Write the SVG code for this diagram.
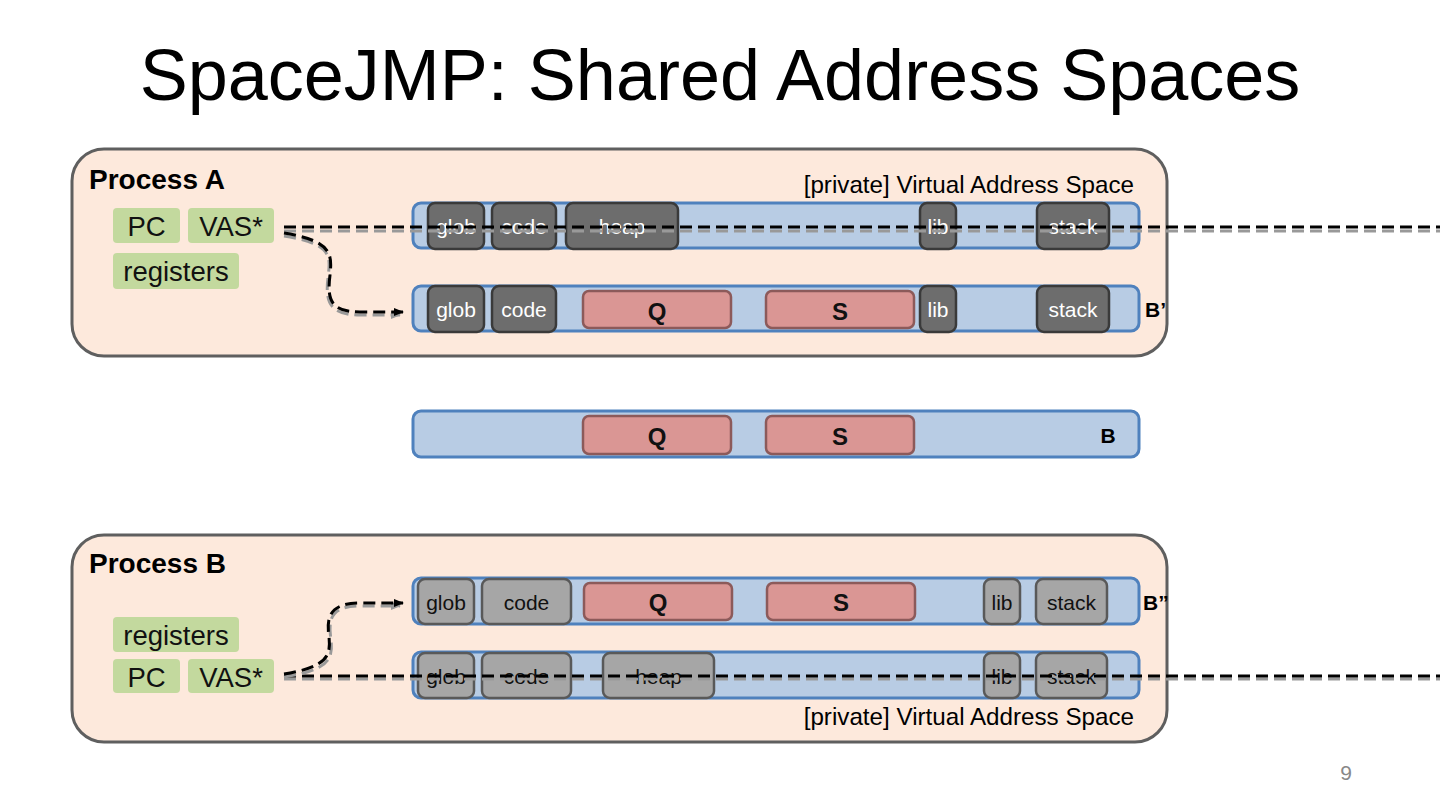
<svg xmlns="http://www.w3.org/2000/svg" width="1440" height="810" viewBox="0 0 1440 810">
<defs>
<style>
.t{font-family:"Liberation Sans",Arial,sans-serif;}
.proc{fill:#fde9dc;stroke:#5f5f5f;stroke-width:3;}
.reg{fill:#c3d99e;}
.regt{font-size:27.5px;fill:#111;text-anchor:middle;}
.bar{fill:#b8cce4;stroke:#4f81bd;stroke-width:3;}
.dk{fill:#6d6d6d;stroke:#3a3a3a;stroke-width:2.5;}
.dkt{font-size:21px;fill:#fff;text-anchor:middle;}
.lt{fill:#a6a6a6;stroke:#595959;stroke-width:2.5;}
.ltt{font-size:21px;fill:#111;text-anchor:middle;}
.sh{fill:#da9694;stroke:#8c5a5a;stroke-width:2.5;}
.sht{font-size:24px;font-weight:bold;fill:#111;text-anchor:middle;}
.lbl{font-size:21px;font-weight:bold;fill:#000;}
.ptitle{font-size:28px;font-weight:bold;fill:#000;}
.priv{font-size:24.2px;fill:#000;text-anchor:end;}
.dash{fill:none;stroke:#000;stroke-width:3;stroke-dasharray:12 6;}
.dashsh{fill:none;stroke:#999;stroke-width:3;stroke-dasharray:12 6;}
</style>
<marker id="ah" markerWidth="10" markerHeight="8" refX="9" refY="4" orient="auto" markerUnits="userSpaceOnUse">
<path d="M0,0 L10,4 L0,8 Z" fill="#000"/>
</marker>
<marker id="ahs" markerWidth="10" markerHeight="8" refX="9" refY="4" orient="auto" markerUnits="userSpaceOnUse">
<path d="M0,0 L10,4 L0,8 Z" fill="#999"/>
</marker>
</defs>
<rect width="1440" height="810" fill="#fff"/>
<text class="t" x="720" y="100" font-size="72" text-anchor="middle" fill="#000">SpaceJMP: Shared Address Spaces</text>

<g id="processA">
<rect class="proc" x="72" y="149" width="1095" height="207" rx="32"/>
<text class="t ptitle" x="89" y="189">Process A</text>
<text class="t priv" x="1134" y="193">[private] Virtual Address Space</text>
<rect class="reg" x="113" y="208" width="67" height="35" rx="4"/>
<text class="t regt" x="146.5" y="236">PC</text>
<rect class="reg" x="188" y="208" width="86" height="35" rx="4"/>
<text class="t regt" x="231" y="236">VAS*</text>
<rect class="reg" x="113" y="253" width="126" height="36" rx="4"/>
<text class="t regt" x="176" y="281">registers</text>
</g>

<g id="vasA">
<rect class="bar" x="413" y="203" width="726" height="45" rx="8"/>
<rect class="dk" x="428" y="203" width="56" height="46" rx="7"/>
<text class="t dkt" x="456" y="234">glob</text>
<rect class="dk" x="492" y="203" width="64" height="46" rx="7"/>
<text class="t dkt" x="524" y="234">code</text>
<rect class="dk" x="566" y="203" width="112" height="46" rx="7"/>
<text class="t dkt" x="622" y="234">heap</text>
<rect class="dk" x="920" y="203" width="36" height="46" rx="7"/>
<text class="t dkt" x="938" y="234">lib</text>
<rect class="dk" x="1037" y="203" width="72" height="46" rx="7"/>
<text class="t dkt" x="1073" y="234">stack</text>
</g>

<g id="vasBprime">
<rect class="bar" x="413" y="286" width="726" height="45" rx="8"/>
<rect class="dk" x="428" y="286" width="56" height="46" rx="7"/>
<text class="t dkt" x="456" y="317">glob</text>
<rect class="dk" x="492" y="286" width="64" height="46" rx="7"/>
<text class="t dkt" x="524" y="317">code</text>
<rect class="sh" x="583" y="291" width="148" height="37" rx="6"/>
<text class="t sht" x="657" y="320">Q</text>
<rect class="sh" x="766" y="291" width="148" height="37" rx="6"/>
<text class="t sht" x="840" y="320">S</text>
<rect class="dk" x="920" y="286" width="36" height="46" rx="7"/>
<text class="t dkt" x="938" y="317">lib</text>
<rect class="dk" x="1037" y="286" width="72" height="46" rx="7"/>
<text class="t dkt" x="1073" y="317">stack</text>
<text class="t lbl" x="1145" y="317">B’</text>
</g>

<g id="vasB">
<rect class="bar" x="413" y="411" width="726" height="46" rx="8"/>
<rect class="sh" x="583" y="416" width="148" height="38" rx="6"/>
<text class="t sht" x="657" y="445">Q</text>
<rect class="sh" x="766" y="416" width="148" height="38" rx="6"/>
<text class="t sht" x="840" y="445">S</text>
<text class="t lbl" x="1108" y="443" text-anchor="middle">B</text>
</g>

<g id="processB">
<rect class="proc" x="72" y="535" width="1095" height="207" rx="32"/>
<text class="t ptitle" x="89" y="573">Process B</text>
<text class="t priv" x="1134" y="725">[private] Virtual Address Space</text>
<rect class="reg" x="113" y="617" width="126" height="35" rx="4"/>
<text class="t regt" x="176" y="645">registers</text>
<rect class="reg" x="113" y="659" width="67" height="34" rx="4"/>
<text class="t regt" x="146.5" y="687">PC</text>
<rect class="reg" x="188" y="659" width="86" height="34" rx="4"/>
<text class="t regt" x="231" y="687">VAS*</text>
</g>

<g id="vasBdouble">
<rect class="bar" x="413" y="578" width="726" height="46" rx="8"/>
<rect class="lt" x="418" y="579" width="56" height="45" rx="7"/>
<text class="t ltt" x="446" y="610">glob</text>
<rect class="lt" x="482" y="579" width="89" height="45" rx="7"/>
<text class="t ltt" x="526.5" y="610">code</text>
<rect class="sh" x="584" y="583" width="148" height="37" rx="6"/>
<text class="t sht" x="658" y="611">Q</text>
<rect class="sh" x="767" y="583" width="148" height="37" rx="6"/>
<text class="t sht" x="841" y="611">S</text>
<rect class="lt" x="984" y="579" width="36" height="45" rx="7"/>
<text class="t ltt" x="1002" y="610">lib</text>
<rect class="lt" x="1036" y="579" width="71" height="45" rx="7"/>
<text class="t ltt" x="1071.5" y="610">stack</text>
<text class="t lbl" x="1143" y="610">B”</text>
</g>

<g id="vasPrivB">
<rect class="bar" x="413" y="652" width="726" height="46" rx="8"/>
<rect class="lt" x="418" y="653" width="56" height="45" rx="7"/>
<text class="t ltt" x="446" y="684">glob</text>
<rect class="lt" x="482" y="653" width="89" height="45" rx="7"/>
<text class="t ltt" x="526.5" y="684">code</text>
<rect class="lt" x="603" y="653" width="111" height="45" rx="7"/>
<text class="t ltt" x="658.5" y="684">heap</text>
<rect class="lt" x="984" y="653" width="36" height="45" rx="7"/>
<text class="t ltt" x="1002" y="684">lib</text>
<rect class="lt" x="1036" y="653" width="71" height="45" rx="7"/>
<text class="t ltt" x="1071.5" y="684">stack</text>
</g>

<g id="connectors">
<path class="dashsh" d="M284,231 L1440,231"/>
<path class="dash" d="M284,227 L1440,227"/>
<path class="dashsh" d="M284,236 C335,244 330,258 328,278 C325,302 330,315 360,315 L400,315" marker-end="url(#ahs)"/>
<path class="dash" d="M284,233 C333,241 332,255 330,275 C327,299 330,312 360,312 L403,312" marker-end="url(#ah)"/>
<path class="dashsh" d="M284,679 L1440,679"/>
<path class="dash" d="M284,676 L1440,676"/>
<path class="dashsh" d="M284,677 C330,670 333,658 331,640 C328,620 330,606 360,606 L400,606" marker-end="url(#ahs)"/>
<path class="dash" d="M284,674 C328,667 331,655 329,637 C326,617 330,603 360,603 L403,603" marker-end="url(#ah)"/>
</g>

<text class="t" x="1346" y="780" font-size="21" fill="#888" text-anchor="middle">9</text>
</svg>
